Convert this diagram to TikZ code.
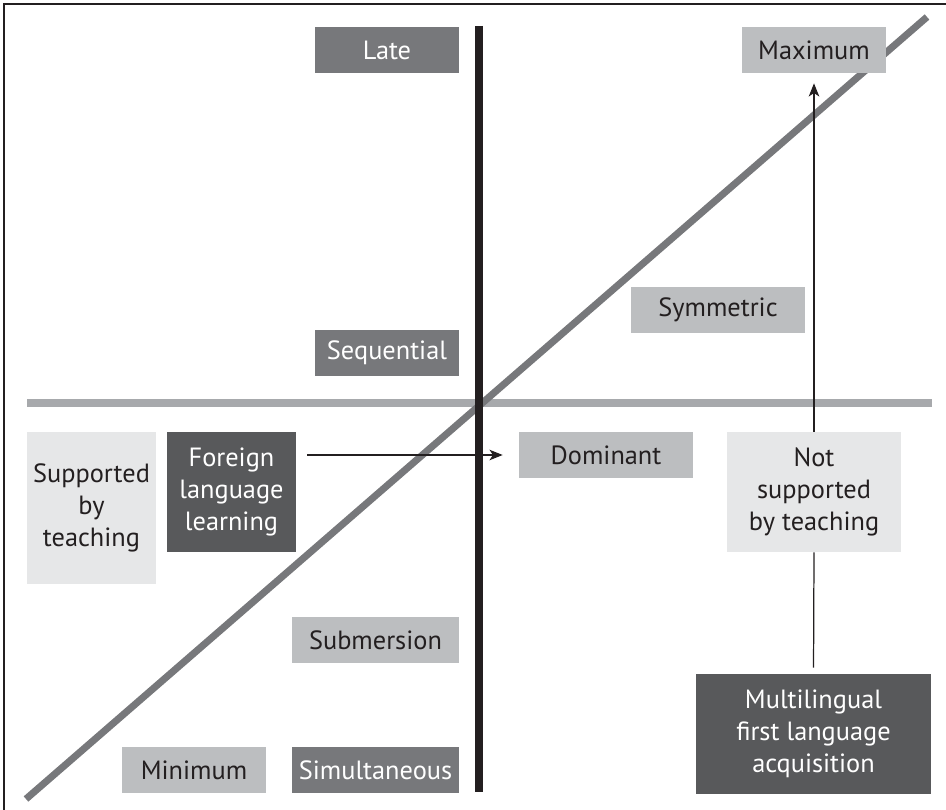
\documentclass[tikz,border=0pt]{standalone}
\usepackage{fontspec}
\setmainfont{PT Sans}
\usetikzlibrary{arrows.meta}

\definecolor{darkbox}{HTML}{58595B}
\definecolor{midbox}{HTML}{77787B}
\definecolor{lightbox}{HTML}{BCBEC0}
\definecolor{palebox}{HTML}{E6E7E8}
\definecolor{axisgray}{HTML}{A7A9AC}
\definecolor{inkblack}{HTML}{231F20}

\begin{document}
\begin{tikzpicture}[x=0.02cm,y=-0.02cm,
        box/.style={inner sep=0pt,align=center,minimum height=0.92cm,
            font=\fontsize{15}{18.2}\selectfont},
        darkfill/.style={box,fill=darkbox,text=white},
        midfill/.style={box,fill=midbox,text=white},
        lightfill/.style={box,fill=lightbox,text=inkblack},
        palefill/.style={box,fill=palebox,text=inkblack},
        arr/.style={draw=inkblack,line width=0.7pt,-{Stealth[length=7.5pt,width=6pt,inset=2pt]}}]
        \useasboundingbox (0,0) rectangle (946,810);
        % frame
        \draw[inkblack,line width=0.8pt] (4,810) -- (4,4) -- (946,4);
        % axes
        \draw[axisgray,line width=4.5pt] (27,403) -- (932,403);
        \draw[midbox,line width=4pt] (26,799) -- (927,17);
        \draw[inkblack,line width=4.5pt] (479,26) -- (479,792);
        % boxes
        \node[midfill,minimum width=2.88cm] (late) at (387,50) {Late};
        \node[lightfill,minimum width=2.88cm] (maxi) at (814,50) {Maximum};
        \node[lightfill,minimum width=3.48cm] (sym) at (718,310) {Symmetric};
        \node[midfill,minimum width=2.88cm] (seq) at (387,353) {Sequential};
        \node[palefill,minimum width=2.58cm,minimum height=3.04cm] (supp) at (91.5,508) {Supported\\by\\teaching};
        \node[darkfill,minimum width=2.58cm,minimum height=2.4cm] (foreign) at (231.5,492) {Foreign\\language\\learning};
        \node[lightfill,minimum width=3.48cm] (dom) at (606,455) {Dominant};
        \node[palefill,minimum width=3.48cm,minimum height=2.4cm] (notsupp) at (814,492) {Not\\supported\\by teaching};
        \node[lightfill,minimum width=3.34cm] (subm) at (375.5,640) {Submersion};
        \node[lightfill,minimum width=2.88cm] (mini) at (194,770) {Minimum};
        \node[midfill,minimum width=3.34cm] (simul) at (375.5,770) {Simultaneous};
        \node[darkfill,minimum width=4.7cm,minimum height=2.4cm] (multi) at (813.5,734) {Multilingual\\first language\\acquisition};
        % arrows
        \draw[arr,shorten <=0.22cm,shorten >=0.32cm] (foreign.east |- dom.west) -- (dom.west);
        \draw[inkblack,line width=0.7pt,shorten <=0.12cm] (multi.north) -- (notsupp.south);
        \draw[arr,shorten >=0.2cm] (notsupp.north) -- (maxi.south);
\end{tikzpicture}
\end{document}
